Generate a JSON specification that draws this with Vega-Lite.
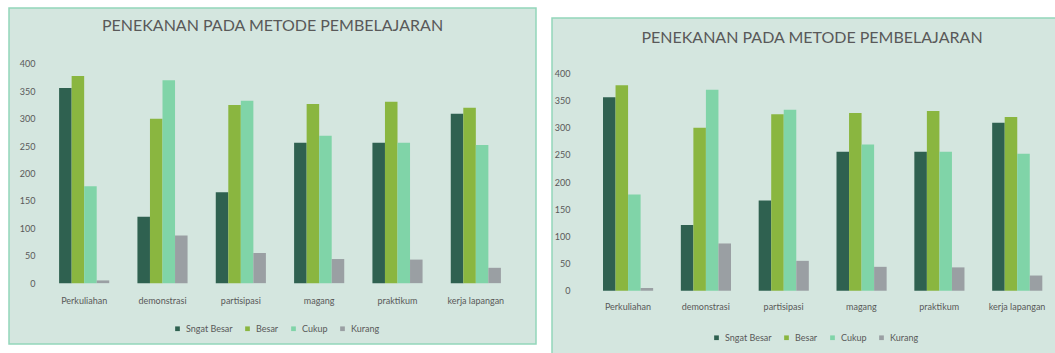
{
  "$schema": "https://vega.github.io/schema/vega-lite/v6.json",
  "background": "white",
  "padding": {"left": 8, "top": 7, "right": 0, "bottom": 0},
  "autosize": {"type": "pad"},
  "spacing": 14,
  "datasets": {
    "d": [
      {"metode": "Perkuliahan", "kategori": "Sngat Besar", "nilai": 356},
      {"metode": "Perkuliahan", "kategori": "Besar", "nilai": 378},
      {"metode": "Perkuliahan", "kategori": "Cukup", "nilai": 177},
      {"metode": "Perkuliahan", "kategori": "Kurang", "nilai": 5},
      {"metode": "demonstrasi", "kategori": "Sngat Besar", "nilai": 121},
      {"metode": "demonstrasi", "kategori": "Besar", "nilai": 300},
      {"metode": "demonstrasi", "kategori": "Cukup", "nilai": 370},
      {"metode": "demonstrasi", "kategori": "Kurang", "nilai": 87},
      {"metode": "partisipasi", "kategori": "Sngat Besar", "nilai": 166},
      {"metode": "partisipasi", "kategori": "Besar", "nilai": 325},
      {"metode": "partisipasi", "kategori": "Cukup", "nilai": 333},
      {"metode": "partisipasi", "kategori": "Kurang", "nilai": 55},
      {"metode": "magang", "kategori": "Sngat Besar", "nilai": 256},
      {"metode": "magang", "kategori": "Besar", "nilai": 327},
      {"metode": "magang", "kategori": "Cukup", "nilai": 269},
      {"metode": "magang", "kategori": "Kurang", "nilai": 44},
      {"metode": "praktikum", "kategori": "Sngat Besar", "nilai": 256},
      {"metode": "praktikum", "kategori": "Besar", "nilai": 331},
      {"metode": "praktikum", "kategori": "Cukup", "nilai": 256},
      {"metode": "praktikum", "kategori": "Kurang", "nilai": 43},
      {"metode": "kerja lapangan", "kategori": "Sngat Besar", "nilai": 309},
      {"metode": "kerja lapangan", "kategori": "Besar", "nilai": 320},
      {"metode": "kerja lapangan", "kategori": "Cukup", "nilai": 252},
      {"metode": "kerja lapangan", "kategori": "Kurang", "nilai": 28}
    ]
  },
  "config": {
    "font": "Lato",
    "view": {"fill": "#d4e6df", "stroke": "#93d6ba", "strokeWidth": 1.5},
    "axis": {"labelFont": "Lato", "labelColor": "#595959", "labelFontSize": 9, "domain": false, "ticks": false, "tickSize": 0, "grid": false},
    "title": {"font": "Lato", "fontSize": 16, "fontWeight": "normal", "color": "#595959", "anchor": "middle", "frame": "group", "baseline": "middle"},
    "legend": {"labelFont": "Lato", "labelFontSize": 9, "labelColor": "#595959", "symbolType": "square", "symbolSize": 22, "symbolStrokeWidth": 0, "columnPadding": 10, "direction": "horizontal", "orient": "none"}
  },
  "hconcat": [
    {
      "width": 527,
      "height": 336,
      "data": {"name": "d"},
      "title": {"text": "PENEKANAN PADA METODE PEMBELAJARAN", "offset": -26},
      "mark": {"type": "bar"},
      "encoding": {
        "x": {"field": "metode", "type": "nominal", "sort": ["Perkuliahan", "demonstrasi", "partisipasi", "magang", "praktikum", "kerja lapangan"], "scale": {"range": [36, 506], "paddingInner": 0.36, "paddingOuter": 0.18}, "axis": {"orient": "bottom", "offset": -61, "labelPadding": 13, "labelAngle": 0, "title": null}},
        "xOffset": {"field": "kategori", "type": "nominal", "sort": ["Sngat Besar", "Besar", "Cukup", "Kurang"], "scale": {"paddingInner": 0, "paddingOuter": 0}},
        "y": {"field": "nilai", "type": "quantitative", "scale": {"domain": [-111, 502], "nice": false, "zero": false}, "axis": {"values": [0, 50, 100, 150, 200, 250, 300, 350, 400], "offset": -28, "labelPadding": 2, "title": null}},
        "y2": {"datum": 0},
        "color": {"field": "kategori", "type": "nominal", "sort": ["Sngat Besar", "Besar", "Cukup", "Kurang"], "scale": {"domain": ["Sngat Besar", "Besar", "Cukup", "Kurang"], "range": ["#2f6150", "#8ab640", "#80d4a8", "#9a9fa3"]}, "legend": {"orient": "none", "legendX": 164, "legendY": 316, "title": null}}
      }
    },
    {
      "spacing": 0,
      "vconcat": [
        {
          "width": 20,
          "height": 9,
          "data": {"values": [{}]},
          "mark": {"type": "point", "opacity": 0},
          "encoding": {},
          "view": {"stroke": null, "fill": null}
        },
        {
          "width": 520,
          "height": 345,
          "data": {"name": "d"},
          "title": {"text": "PENEKANAN PADA METODE PEMBELAJARAN", "offset": -28},
          "mark": {"type": "bar"},
          "encoding": {
            "x": {"field": "metode", "type": "nominal", "sort": ["Perkuliahan", "demonstrasi", "partisipasi", "magang", "praktikum", "kerja lapangan"], "scale": {"range": [37, 504], "paddingInner": 0.36, "paddingOuter": 0.18}, "axis": {"orient": "bottom", "offset": -74, "labelPadding": 13, "labelAngle": 0, "title": null}},
            "xOffset": {"field": "kategori", "type": "nominal", "sort": ["Sngat Besar", "Besar", "Cukup", "Kurang"], "scale": {"paddingInner": 0, "paddingOuter": 0}},
            "y": {"field": "nilai", "type": "quantitative", "scale": {"domain": [-133, 502], "nice": false, "zero": false}, "axis": {"values": [0, 50, 100, 150, 200, 250, 300, 350, 400], "offset": -20, "labelPadding": 2, "title": null}},
            "y2": {"datum": 0},
            "color": {"field": "kategori", "type": "nominal", "sort": ["Sngat Besar", "Besar", "Cukup", "Kurang"], "scale": {"domain": ["Sngat Besar", "Besar", "Cukup", "Kurang"], "range": ["#2f6150", "#8ab640", "#80d4a8", "#9a9fa3"]}, "legend": {"orient": "none", "legendX": 160, "legendY": 325, "title": null}}
          }
        }
      ]
    }
  ],
  "resolve": {"scale": {"x": "independent", "y": "independent", "color": "independent"}, "legend": {"color": "independent"}}
}
